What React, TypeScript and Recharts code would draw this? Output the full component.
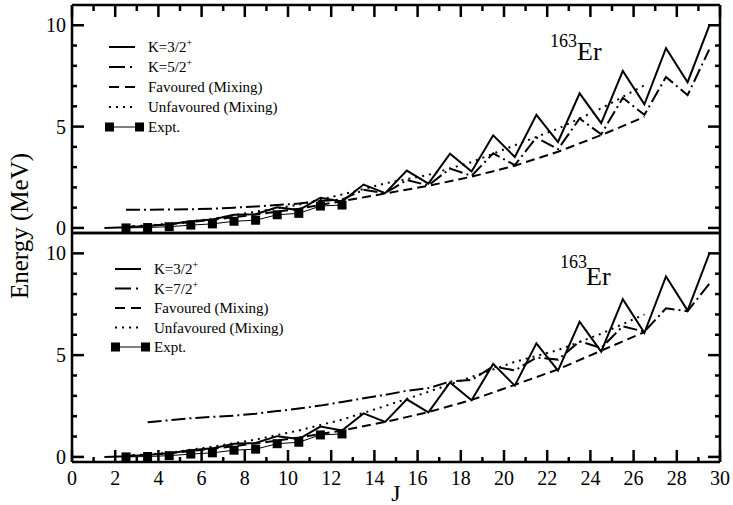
import React from 'react';
import { LineChart, Line, XAxis, YAxis } from 'recharts';

const FONT = '"Liberation Serif", "Times New Roman", Times, serif';

// spin J (x axis)
const J_K32 = [1.5, 2.5, 3.5, 4.5, 5.5, 6.5, 7.5, 8.5, 9.5, 10.5, 11.5, 12.5, 13.5, 14.5, 15.5, 16.5, 17.5, 18.5, 19.5, 20.5, 21.5, 22.5, 23.5, 24.5, 25.5, 26.5, 27.5, 28.5, 29.5];
const J_K52 = [2.5, 3.5, 4.5, 5.5, 6.5, 7.5, 8.5, 9.5, 10.5, 11.5, 12.5, 13.5, 14.5, 15.5, 16.5, 17.5, 18.5, 19.5, 20.5, 21.5, 22.5, 23.5, 24.5, 25.5, 26.5, 27.5, 28.5, 29.5];
const J_K72 = [3.5, 4.5, 5.5, 6.5, 7.5, 8.5, 9.5, 10.5, 11.5, 12.5, 13.5, 14.5, 15.5, 16.5, 17.5, 18.5, 19.5, 20.5, 21.5, 22.5, 23.5, 24.5, 25.5, 26.5, 27.5, 28.5, 29.5];
const J_MIX = [2.5, 4.5, 6.5, 8.5, 10.5, 12.5, 14.5, 16.5, 18.5, 20.5, 22.5, 24.5, 26.5];
const J_EXPT = [2.5, 3.5, 4.5, 5.5, 6.5, 7.5, 8.5, 9.5, 10.5, 11.5, 12.5];

// energies (MeV)
const K32 = [0.0, 0.03, 0.1, 0.18, 0.33, 0.42, 0.65, 0.68, 1.02, 0.88, 1.49, 1.3, 2.14, 1.72, 2.83, 2.19, 3.66, 2.78, 4.57, 3.5, 5.58, 4.24, 6.64, 5.17, 7.75, 6.1, 8.87, 7.19, 9.97];
const K52 = [0.9, 0.9, 0.91, 0.92, 0.95, 1.0, 1.06, 1.13, 1.2, 1.33, 1.4, 1.88, 1.72, 2.36, 2.1, 2.93, 2.57, 3.68, 3.1, 4.46, 3.88, 5.4, 4.62, 6.42, 5.58, 7.45, 6.55, 8.8];
const K72 = [1.7, 1.8, 1.9, 1.97, 2.03, 2.12, 2.25, 2.38, 2.52, 2.7, 2.88, 3.05, 3.25, 3.38, 3.7, 3.78, 4.45, 4.25, 4.88, 4.78, 5.68, 5.35, 6.42, 6.15, 7.3, 7.16, 8.5];
const FAV_TOP = [0.05, 0.18, 0.4, 0.66, 0.95, 1.32, 1.7, 2.08, 2.53, 3.07, 3.76, 4.58, 5.48];
const UNF_TOP = [0.05, 0.2, 0.45, 0.8, 1.15, 1.65, 2.2, 2.62, 3.25, 4.08, 4.9, 5.9, 7.04];
const FAV_BOT = [0.05, 0.18, 0.4, 0.66, 0.95, 1.3, 1.72, 2.2, 2.8, 3.54, 4.3, 5.22, 6.13];
const UNF_BOT = [0.05, 0.2, 0.5, 0.85, 1.3, 1.83, 2.5, 3.2, 3.93, 4.67, 5.25, 6.05, 7.0];
const EXPT = [0.0, 0.02, 0.06, 0.14, 0.2, 0.33, 0.38, 0.65, 0.72, 1.08, 1.13];

// ticks
const X_MAJOR = [0, 2, 4, 6, 8, 10, 12, 14, 16, 18, 20, 22, 24, 26, 28, 30];
const X_MINOR = [1, 3, 5, 7, 9, 11, 13, 15, 17, 19, 21, 23, 25, 27, 29];
const Y_MAJOR = [0, 5, 10];
const Y_MINOR = [1, 2, 3, 4, 6, 7, 8, 9];

const pts = (xs: number[], ys: number[]) => xs.map((J, i) => ({ J, E: ys[i] }));

const DASHDOT = '14 4 2 4';
const DASHED = '9 5';
const DOTTED = '2 5';
const AXIS = { stroke: '#000', strokeWidth: 2.5 };
const TICKLINE = { stroke: '#000', strokeWidth: 2.5 };
const LABEL = { fontSize: 20, fontFamily: FONT, fill: '#000' };
const X_DOMAIN: [number, number] = [0, 30];
const Y_DOMAIN: [number, number] = [-0.25, 11];
const blank = () => '';

const square = (p: any) => (
  <rect key={`sq-${p.index}`} x={p.cx - 4.5} y={p.cy - 4.5} width={9} height={9} fill="#000" />
);

type Series = { key: string; data: { J: number; E: number }[]; dash?: string; width: number; dot?: boolean };

// every axis is 1px thick; negative tickSize turns the ticks inward.
// top panel: ticks on top/left/right; bottom panel: ticks on bottom/left/right
function Panel({ series, height, margin, isTop }: {
  series: Series[]; height: number; margin: any; isTop: boolean;
}) {
  return (
    <LineChart width={733} height={height} margin={margin}>
      <XAxis type="number" dataKey="J" domain={X_DOMAIN} ticks={X_MAJOR} interval={0} allowDataOverflow
        height={1} axisLine={AXIS}
        tickSize={isTop ? 0 : -12} tickMargin={21} tickLine={isTop ? false : TICKLINE}
        tick={LABEL} tickFormatter={isTop ? blank : undefined} />
      {!isTop && (
        <XAxis xAxisId="bm" type="number" dataKey="J" domain={X_DOMAIN} ticks={X_MINOR} interval={0} allowDataOverflow
          height={1} axisLine={false} tickSize={-6} tickMargin={0} tickLine={TICKLINE} tickFormatter={blank} />
      )}
      <XAxis xAxisId="t" orientation="top" type="number" dataKey="J" domain={X_DOMAIN} ticks={X_MAJOR} interval={0} allowDataOverflow
        height={1} axisLine={AXIS}
        tickSize={isTop ? -12 : 0} tickMargin={0} tickLine={isTop ? TICKLINE : false} tickFormatter={blank} />
      {isTop && (
        <XAxis xAxisId="tm" orientation="top" type="number" dataKey="J" domain={X_DOMAIN} ticks={X_MINOR} interval={0} allowDataOverflow
          height={1} axisLine={false} tickSize={-7} tickMargin={0} tickLine={TICKLINE} tickFormatter={blank} />
      )}
      <YAxis type="number" domain={Y_DOMAIN} ticks={Y_MAJOR} interval={0} allowDataOverflow
        width={1} axisLine={AXIS} tickSize={-12} tickMargin={18} tickLine={TICKLINE} tick={LABEL} />
      <YAxis yAxisId="lm" type="number" domain={Y_DOMAIN} ticks={Y_MINOR} interval={0} allowDataOverflow
        width={1} axisLine={false} tickSize={-6} tickMargin={0} tickLine={TICKLINE} tickFormatter={blank} />
      <YAxis yAxisId="r" orientation="right" type="number" domain={Y_DOMAIN} ticks={Y_MAJOR} interval={0} allowDataOverflow
        width={1} axisLine={AXIS} tickSize={-12} tickMargin={0} tickLine={TICKLINE} tickFormatter={blank} />
      <YAxis yAxisId="rm" orientation="right" type="number" domain={Y_DOMAIN} ticks={Y_MINOR} interval={0} allowDataOverflow
        width={1} axisLine={false} tickSize={-6} tickMargin={0} tickLine={TICKLINE} tickFormatter={blank} />
      {series.map((s) => (
        <Line key={s.key} data={s.data} dataKey="E" type="linear" stroke="#000" strokeWidth={s.width}
          strokeDasharray={s.dash} dot={s.dot ? square : false} activeDot={false}
          isAnimationActive={false} />
      ))}
    </LineChart>
  );
}

function LegendRow({ x0, y, kind, label }: { x0: number; y: number; kind: string; label: React.ReactNode }) {
  const x1 = x0 + 26;
  return (
    <g>
      {kind === 'expt' ? (
        <g>
          <line x1={x0} x2={x1 + 4} y1={y} y2={y} stroke="#000" strokeWidth={1} />
          <rect x={x0 - 4} y={y - 4.5} width={9} height={9} fill="#000" />
          <rect x={x1} y={y - 4.5} width={9} height={9} fill="#000" />
        </g>
      ) : (
        <line x1={x0} x2={x1} y1={y} y2={y} stroke="#000" strokeWidth={2}
          strokeDasharray={kind === 'solid' ? undefined : kind === 'dashdot' ? '16 5 2 4' : kind === 'dashed' ? '10 6' : DOTTED} />
      )}
      <text x={x0 + 39} y={y + 5} fontSize={15} fontFamily={FONT} fill="#000">{label}</text>
    </g>
  );
}

function Legend({ x0, y0, step, k2 }: { x0: number; y0: number; step: number; k2: string }) {
  return (
    <g>
      <LegendRow x0={x0} y={y0} kind="solid" label={<>K=3/2<tspan dy={-6} fontSize={10}>+</tspan></>} />
      <LegendRow x0={x0} y={y0 + step} kind="dashdot" label={<>K={k2}<tspan dy={-6} fontSize={10}>+</tspan></>} />
      <LegendRow x0={x0} y={y0 + 2 * step} kind="dashed" label="Favoured (Mixing)" />
      <LegendRow x0={x0} y={y0 + 3 * step} kind="dotted" label="Unfavoured (Mixing)" />
      <LegendRow x0={x0} y={y0 + 4 * step} kind="expt" label="Expt." />
    </g>
  );
}

export default function App() {
  const top: Series[] = [
    { key: 'k32', data: pts(J_K32, K32), width: 2 },
    { key: 'k52', data: pts(J_K52, K52), width: 2, dash: DASHDOT },
    { key: 'fav', data: pts(J_MIX, FAV_TOP), width: 2, dash: DASHED },
    { key: 'unf', data: pts(J_MIX, UNF_TOP), width: 2, dash: DOTTED },
    { key: 'exp', data: pts(J_EXPT, EXPT), width: 1, dot: true },
  ];
  const bottom: Series[] = [
    { key: 'k32', data: pts(J_K32, K32), width: 2 },
    { key: 'k72', data: pts(J_K72, K72), width: 2, dash: DASHDOT },
    { key: 'fav', data: pts(J_MIX, FAV_BOT), width: 2, dash: DASHED },
    { key: 'unf', data: pts(J_MIX, UNF_BOT), width: 2, dash: DOTTED },
    { key: 'exp', data: pts(J_EXPT, EXPT), width: 1, dot: true },
  ];
  return (
    <div style={{ position: 'absolute', left: 0, top: 0, width: 733, height: 505, background: '#fff' }}>
      <div style={{ position: 'absolute', left: 0, top: 0 }}>
        <Panel series={top} height={240} margin={{ top: 3, right: 11, bottom: 6, left: 70 }} isTop />
      </div>
      <div style={{ position: 'absolute', left: 0, top: 226 }}>
        <Panel series={bottom} height={279} margin={{ top: 6, right: 11, bottom: 41, left: 70 }} isTop={false} />
      </div>
      <svg width={733} height={505} style={{ position: 'absolute', left: 0, top: 0, pointerEvents: 'none' }}>
        <Legend x0={109} y0={47} step={20} k2="5/2" />
        <Legend x0={115} y0={269} step={19.5} k2="7/2" />
        <text x={550} y={47} fontSize={18} fontFamily={FONT}>163</text>
        <text x={577} y={60} fontSize={26} fontFamily={FONT}>Er</text>
        <text x={560} y={268} fontSize={18} fontFamily={FONT}>163</text>
        <text x={586} y={285} fontSize={26} fontFamily={FONT}>Er</text>
        <text x={396} y={501} textAnchor="middle" fontSize={24} fontFamily={FONT}>J</text>
        <text transform="translate(28,226) rotate(-90)" textAnchor="middle" fontSize={25} fontFamily={FONT}>Energy (MeV)</text>
      </svg>
    </div>
  );
}
